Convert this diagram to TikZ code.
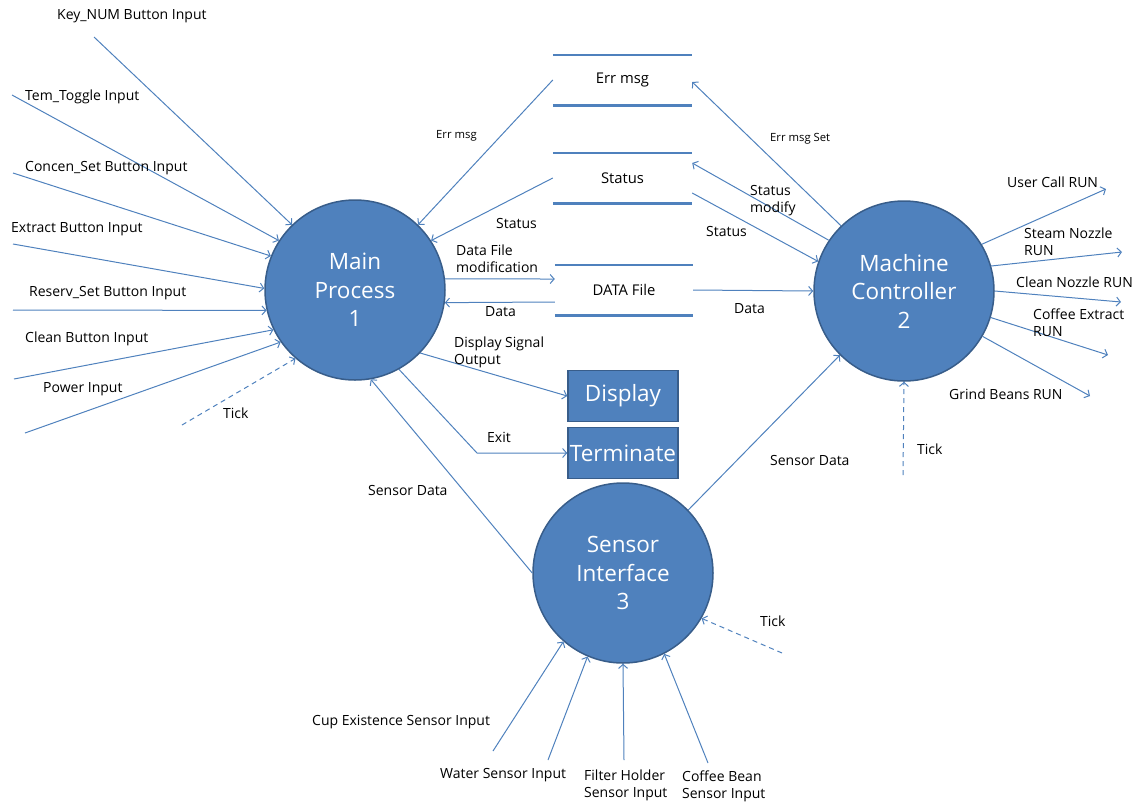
\documentclass[tikz,border=0pt]{standalone}
\usepackage{fontspec}
\setmainfont{Open Sans}
\usetikzlibrary{arrows.meta}
\definecolor{dfd_blue}{HTML}{4F81BD}
\definecolor{dfd_edge}{HTML}{385D8A}

\begin{document}
\begin{tikzpicture}[
  x=1pt, y=-1pt,
  process_node/.style={circle, minimum size=180pt, inner sep=0pt, fill=dfd_blue, draw=dfd_edge, line width=1.5pt, text=white, align=center, font=\fontsize{22.5}{28.5}\selectfont},
  term_box/.style={rectangle, minimum width=110pt, minimum height=51pt, inner sep=0pt, fill=dfd_blue, draw=dfd_edge, line width=1.5pt, text=white, font=\fontsize{22.5}{26}\selectfont},
  store_node/.style={rectangle, minimum width=139pt, minimum height=50pt, inner sep=0pt, font=\fontsize{14.8}{17}\selectfont},
  store_top/.style={draw=dfd_blue, line width=1.5pt},
  store_bottom/.style={draw=dfd_blue, line width=3pt},
  flow_line/.style={draw=dfd_blue, line width=1pt, -{Straight Barb[length=4pt,width=9pt]}},
  tick_line/.style={flow_line, dash pattern=on 5pt off 4pt},
  label_text/.style={inner sep=0pt, align=left, font=\fontsize{14}{17}\selectfont},
  small_text/.style={inner sep=0pt, font=\fontsize{11.3}{13}\selectfont},
]
\useasboundingbox (0,0) rectangle (1144,807);

% processes
\node (main) [process_node] at (355,290) {Main\\Process\\1};
\node (ctrl) [process_node] at (904,291) {Machine\\Controller\\2};
\node (sensor) [process_node] at (623,573) {Sensor\\Interface\\3};

% data stores
\node (errstore) [store_node] at (622.5,80) {Err msg};
\node (statstore) [store_node] at (622.5,178) {Status};
\node (datastore) [store_node, minimum width=138pt] at (624,290) {DATA File};
\foreach \s in {errstore, statstore, datastore} {
  \draw[store_top] (\s.north west) -- (\s.north east);
  \draw[store_bottom] (\s.south west) -- (\s.south east);
}

% terminators
\node (display) [term_box] at (623,396) {Display};
\node (terminate) [term_box] at (623,453) {Terminate};

% inputs of main process
\coordinate (keynum_in) at (94,37);
\coordinate (temtog_in) at (12,95);
\coordinate (concen_in) at (13,173);
\coordinate (extract_in) at (13,244);
\coordinate (reserv_in) at (13,310);
\coordinate (clean_in) at (14,379);
\coordinate (power_in) at (25,433);
\coordinate (tick_main) at (182,425);
\draw[flow_line] (keynum_in) -- (main.134);
\draw[flow_line] (temtog_in) -- (main.147);
\draw[flow_line] (concen_in) -- (main.158);
\draw[flow_line] (extract_in) -- (main.179);
\draw[flow_line] (reserv_in) -- (main.193);
\draw[flow_line] (clean_in) -- (main.206);
\draw[flow_line] (power_in) -- (main.215);
\draw[tick_line] (tick_main) -- (main.229);

\draw (57,16) node (keynum_lbl) [label_text, right] {Key\_NUM Button Input};
\draw (25,97) node (temtog_lbl) [label_text, right] {Tem\_Toggle Input};
\draw (25,168) node (concen_lbl) [label_text, right] {Concen\_Set Button Input};
\draw (11,229) node (extract_lbl) [label_text, right] {Extract Button Input};
\draw (29,293) node (reserv_lbl) [label_text, right] {Reserv\_Set Button Input};
\draw (25,339) node (clean_lbl) [label_text, right] {Clean Button Input};
\draw (43,389) node (power_lbl) [label_text, right] {Power Input};
\draw (223,413) node (tick_main_lbl) [label_text, right] {Tick};

% main process <-> stores and terminators
\draw[flow_line] (errstore.west) -- (main.46);
\draw[flow_line] (statstore.west) -- (main.33);
\draw[flow_line] (main.7) -- ([yshift=11pt]datastore.west);
\draw[flow_line] ([yshift=-12pt]datastore.west) -- (main.-8);
\draw[flow_line] (main.-44) -- (display.west);
\draw[flow_line] (main.-61) -- (477,453) -- (terminate.west);
\draw[flow_line] (sensor.180) -- (main.-80);

\draw (436,136) node (err_lbl) [small_text, right] {Err msg};
\draw (496,223) node (stat_lbl) [label_text, right] {Status};
\draw (456,259) node (dfmod_lbl) [label_text, right] {Data File\\modification};
\draw (485,312) node (data_lbl) [label_text, right] {Data};
\draw (454,352) node (dispsig_lbl) [label_text, right] {Display Signal\\Output};
\draw (487,437) node (exit_lbl) [label_text, right] {Exit};
\draw (368,490) node (sdata_lbl) [label_text, right] {Sensor Data};

% machine controller <-> stores and sensor
\draw[flow_line] (ctrl.134) -- ([yshift=-2pt]errstore.east);
\draw[flow_line] (ctrl.146) -- ([yshift=15pt]statstore.east);
\draw[flow_line] ([yshift=-15pt]statstore.east) -- (ctrl.161);
\draw[flow_line] (datastore.east) -- (ctrl.180);
\draw[flow_line] (sensor.44) -- (ctrl.225);

\draw (770,139) node (errset_lbl) [small_text, right] {Err msg Set};
\draw (750,201) node (statmod_lbl) [label_text, right] {Status\\modify};
\draw (706,231) node (stat2_lbl) [label_text, right] {Status};
\draw (734,309) node (data2_lbl) [label_text, right] {Data};
\draw (770,460) node (sdata2_lbl) [label_text, right] {Sensor Data};

% outputs of machine controller
\coordinate (usercall_out) at (1106,189);
\coordinate (steam_out) at (1122,252);
\coordinate (cleannz_out) at (1121,302);
\coordinate (extract_out) at (1108,355);
\coordinate (grind_out) at (1090,396);
\coordinate (tick_ctrl) at (903,475);
\draw[flow_line] (ctrl.31) -- (usercall_out);
\draw[flow_line] (ctrl.16) -- (steam_out);
\draw[flow_line] (ctrl.0) -- (cleannz_out);
\draw[flow_line] (ctrl.-17) -- (extract_out);
\draw[flow_line] (ctrl.-30) -- (grind_out);
\draw[tick_line] (tick_ctrl) -- (ctrl.-90);

\draw (1007,182) node (usercall_lbl) [label_text, right] {User Call RUN};
\draw (1024,242) node (steam_lbl) [label_text, right] {Steam Nozzle\\RUN};
\draw (1016,282) node (cleannz_lbl) [label_text, right] {Clean Nozzle RUN};
\draw (1033,323) node (extract_run_lbl) [label_text, right] {Coffee Extract\\RUN};
\draw (949,394) node (grind_lbl) [label_text, right] {Grind Beans RUN};
\draw (917,449) node (tick_ctrl_lbl) [label_text, right] {Tick};

% inputs of sensor interface
\coordinate (cup_in) at (493,751);
\coordinate (water_in) at (548,760);
\coordinate (filter_in) at (624,760);
\coordinate (bean_in) at (708,763);
\coordinate (tick_sensor) at (782,653);
\draw[flow_line] (cup_in) -- (sensor.229);
\draw[flow_line] (water_in) -- (sensor.247);
\draw[flow_line] (filter_in) -- (sensor.270);
\draw[flow_line] (bean_in) -- (sensor.297);
\draw[tick_line] (tick_sensor) -- (sensor.330);

\draw (312,722) node (cup_lbl) [label_text, right] {Cup Existence Sensor Input};
\draw (440,775) node (water_lbl) [label_text, right] {Water Sensor Input};
\draw (584,785) node (filter_lbl) [label_text, right] {Filter Holder\\Sensor Input};
\draw (682,786) node (bean_lbl) [label_text, right] {Coffee Bean\\Sensor Input};
\draw (760,621) node (tick_sensor_lbl) [label_text, right] {Tick};
\end{tikzpicture}
\end{document}
